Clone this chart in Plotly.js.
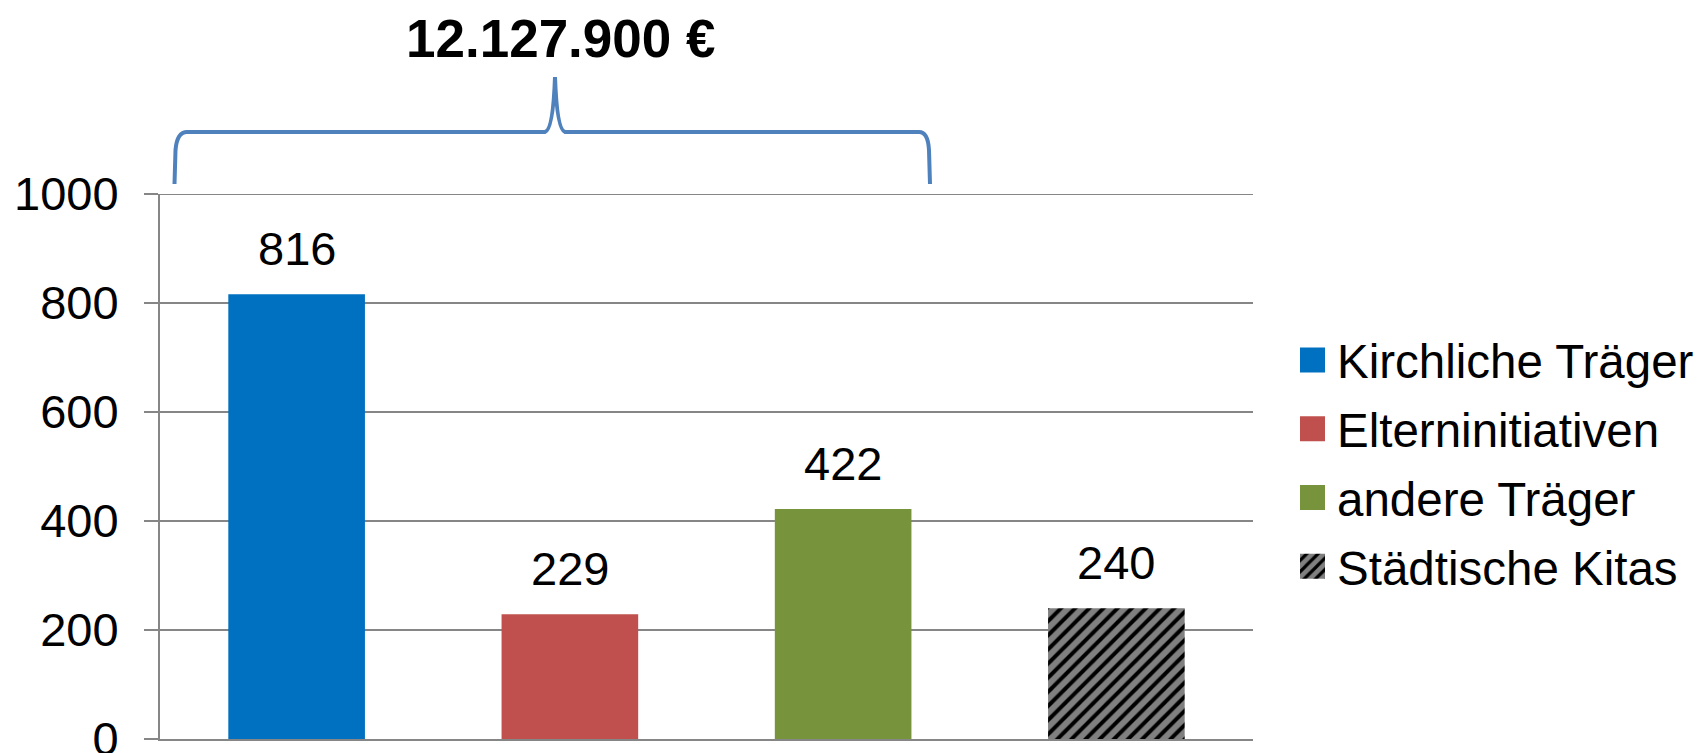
<!DOCTYPE html>
<html>
<head>
<meta charset="utf-8">
<script src="https://cdn.plot.ly/plotly-3.0.1.min.js"></script>
<style>html,body{margin:0;padding:0;background:#fff;}#chart{width:1704px;height:753px;}</style>
</head>
<body>
<div id="chart"></div>
<script>
// ---- data ----
var categories = ["Kirchliche Träger", "Elterninitiativen", "andere Träger", "Städtische Kitas"];
var values = [816, 229, 422, 240];
var colors = ["#0070C0", "#C0504D", "#77933C", "#808080"];
var totalLabel = "12.127.900 €";
var yTicks = [0, 200, 400, 600, 800, 1000];
var yMax = 1000;

// ---- layout helpers (pixel -> paper) ----
var W = 1704, H = 753;
var M = {l: 160, r: 451, t: 194, b: 14, autoexpand: false};
var PW = W - M.l - M.r, PH = H - M.t - M.b;
function px(x) { return (x - M.l) / PW; }
function py(y) { return (H - M.b - y) / PH; }

var FONT = "Liberation Sans, Arial, sans-serif";

var traces = categories.map(function (c, i) {
  var marker = {color: colors[i], line: {width: 0}};
  if (i === 3) {
    marker.pattern = {shape: "/", bgcolor: "#808080", fgcolor: "#000000", size: 10, solidity: 0.4, fillmode: "replace"};
  }
  return {
    type: "bar", name: c, x: [c], y: [values[i]], width: 0.5,
    marker: marker, legendgroup: "g" + i, hoverinfo: "none"
  };
});

// data labels above bars
var annotations = categories.map(function (c, i) {
  return {
    x: c, y: values[i], xref: "x", yref: "y", text: String(values[i]),
    showarrow: false, yanchor: "bottom", yshift: 17,
    font: {family: FONT, size: 47, color: "#000"}
  };
});
annotations.push({
  x: px(560), y: py(38), xref: "paper", yref: "paper", text: "<b>" + totalLabel + "</b>",
  showarrow: false, xanchor: "center", yanchor: "middle",
  font: {family: FONT, size: 53, color: "#000"}
});

function P(x, y) { return px(x).toFixed(5) + "," + py(y).toFixed(5); }
var bracePath = "M" + P(174.5, 184) + " L" + P(175.5, 150) + " Q" + P(177, 132) + " " + P(187, 132) +
  " L" + P(545, 132) + " Q" + P(553, 130) + " " + P(555, 77) + " Q" + P(557, 130) + " " + P(565, 132) +
  " L" + P(919, 132) + " Q" + P(928, 132) + " " + P(929, 150) + " L" + P(930, 184);

var layout = {
  width: W, height: H,
  margin: M,
  paper_bgcolor: "#fff", plot_bgcolor: "#fff",
  showlegend: true,
  barmode: "overlay",
  font: {family: FONT, size: 47, color: "#000"},
  xaxis: {
    type: "category", categoryarray: categories, range: [-0.5, 3.5],
    showticklabels: false, ticks: "", showgrid: false, zeroline: false,
    showline: true, linecolor: "#868686", linewidth: 2, fixedrange: true
  },
  yaxis: {
    range: [0, yMax], tickvals: yTicks, ticktext: yTicks.map(String),
    showgrid: true, gridcolor: "#868686", gridwidth: 2, zeroline: false,
    showline: true, linecolor: "#868686", linewidth: 2,
    ticks: "outside", ticklen: 14, tickcolor: "#868686", tickwidth: 2,
    ticklabelstandoff: 16, ticklabeloverflow: "allow",
    tickfont: {family: FONT, size: 47, color: "#000"}, fixedrange: true
  },
  legend: {
    x: px(1297), y: py(463), xanchor: "left", yanchor: "middle",
    font: {family: FONT, size: 47.5, color: "#000"},
    traceorder: "grouped", tracegroupgap: 4, itemclick: false, itemdoubleclick: false,
    bgcolor: "rgba(0,0,0,0)"
  },
  shapes: [
    {
      type: "line", xref: "paper", yref: "y", x0: 0, x1: 1, y0: yMax, y1: yMax,
      line: {color: "#868686", width: 2}, layer: "below"
    },
    {
      type: "path", xref: "paper", yref: "paper", path: bracePath,
      line: {color: "#4F81BD", width: 4}, fillcolor: "rgba(0,0,0,0)", layer: "above"
    }
  ],
  annotations: annotations
};

var gd = document.getElementById("chart");
function fixLegend() {
  var pts = gd.querySelectorAll(".legend .legendpoints path");
  pts.forEach(function (p) {
    p.setAttribute("d", "M8,12.5H-17V-12.5H8Z");
  });
}
Plotly.newPlot(gd, traces, layout, {displayModeBar: false}).then(function () {
  fixLegend();
  gd.on("plotly_afterplot", fixLegend);
});
</script>
</body>
</html>
